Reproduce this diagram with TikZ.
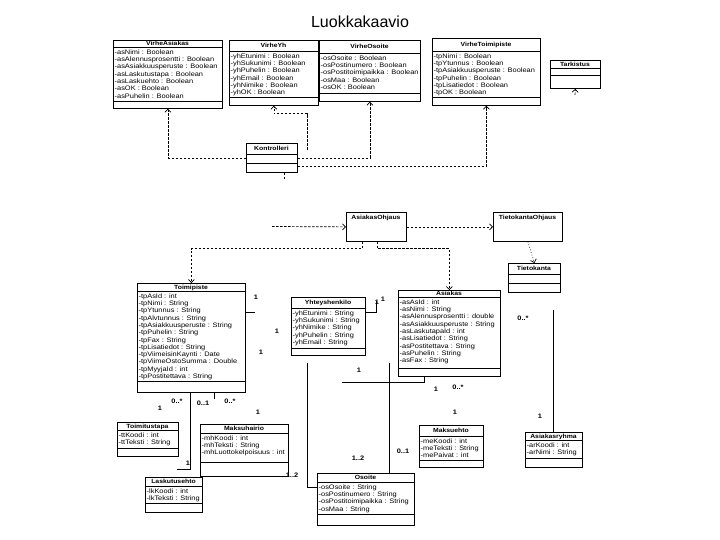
\documentclass[tikz,border=0pt]{standalone}
\usepackage{fontspec}
\setmainfont{Liberation Sans}
\newfontfamily\umlfont[FakeStretch=1.14]{Liberation Sans}
\usetikzlibrary{arrows.meta}
% #1 name, #2 x1, #3 y1, #4 x2, #5 y2, #6 title, #7 title separator y, #8 operations separator y, #9 attributes
\newcommand{\mkclass}[9]{%
  \node[clsbox, minimum width={#4-#2}, minimum height={#5-#3}] (#1) at (#2,#3) {};
  \node[ctitle] (#1-t) at ({(#2+#4)/2},{(#3+#7)/2}) {#6};
  \draw[sepline] (#2,#7) -- (#4,#7);
  \draw[sepline] (#2,#8) -- (#4,#8);
  \node[attrs] (#1-a) at ({#2+1.5},{#7+2.3}) {#9};
}
\begin{document}
\begin{tikzpicture}[x=1pt,y=-1pt,
  clsbox/.style={draw, line width=0.8pt, inner sep=0pt, anchor=north west},
  sepline/.style={line width=0.8pt},
  ctitle/.style={font=\umlfont\bfseries\fontsize{6}{7}\selectfont, inner sep=0pt, text height=4.4pt, text depth=0pt},
  attrs/.style={font=\umlfont\fontsize{6.5}{7.3}\selectfont, inner sep=0pt, anchor=north west, align=left},
  dep/.style={line width=0.7pt, dash pattern=on 2.5pt off 1.5pt, -{Straight Barb[length=3pt,width=6pt]}},
  depline/.style={line width=0.7pt, dash pattern=on 2.5pt off 1.5pt},
  dotdep/.style={line width=0.7pt, dotted, -{Straight Barb[length=3pt,width=6pt]}},
  asc/.style={line width=0.8pt},
  mult/.style={font=\umlfont\bfseries\fontsize{6.5}{7}\selectfont, inner sep=0pt}
]
\fill[white] (0,0) rectangle (720,540);
\useasboundingbox (0,0) rectangle (720,540);

\node[font=\fontsize{16}{19}\selectfont, inner sep=0pt] (title) at (360,22) {Luokkakaavio};

% ---- error classes
\mkclass{va}{113}{40}{222}{108}{VirheAsiakas}{47}{101}{-asNimi : Boolean\\-asAlennusprosentti : Boolean\\-asAsiakkuusperuste : Boolean\\-asLaskutustapa : Boolean\\-asLaskuehto : Boolean\\-asOK : Boolean\\-asPuhelin : Boolean}
\mkclass{vy}{229}{40}{318}{105}{VirheYh}{51}{97}{-yhEtunimi : Boolean\\-yhSukunimi : Boolean\\-yhPuhelin : Boolean\\-yhEmail : Boolean\\-yhNimike : Boolean\\-yhOK : Boolean}
\mkclass{vo}{319}{40}{420}{101}{VirheOsoite}{53}{93}{-osOsoite : Boolean\\-osPostinumero : Boolean\\-osPostitoimipaikka : Boolean\\-osMaa : Boolean\\-osOK : Boolean}
\mkclass{vt}{432}{38}{540}{105}{VirheToimipiste}{51}{97}{-tpNimi : Boolean\\-tpYtunnus : Boolean\\-tpAsiakkuusperuste : Boolean\\-tpPuhelin : Boolean\\-tpLisatiedot : Boolean\\-tpOK : Boolean}
\mkclass{tr}{550}{60}{600}{88}{Tarkistus}{68}{75}{}

% ---- control classes
\mkclass{ko}{246}{143}{297}{172}{Kontrolleri}{154}{163}{}
\node[clsbox, minimum width=60pt, minimum height=29pt] (ao) at (346,212) {};
\node[ctitle] (ao-t) at (376,217) {AsiakasOhjaus};
\node[clsbox, minimum width=69pt, minimum height=29pt] (to) at (493,212) {};
\node[ctitle] (to-t) at (527.5,217) {TietokantaOhjaus};
\mkclass{tk}{508}{263}{560}{292}{Tietokanta}{274}{283}{}

% ---- domain classes
\mkclass{tp}{137}{283}{245}{392}{Toimipiste}{291}{381}{-tpAsId : int\\-tpNimi : String\\-tpYtunnus : String\\-tpAlvtunnus : String\\-tpAsiakkuusperuste : String\\-tpPuhelin : String\\-tpFax : String\\-tpLisatiedot : String\\-tpViimeisinKaynti : Date\\-tpViimeOstoSumma : Double\\-tpMyyjaId : int\\-tpPostitettava : String}
\mkclass{yh}{291}{297}{365}{355}{Yhteyshenkilo}{308}{348}{-yhEtunimi : String\\-yhSukunimi : String\\-yhNimike : String\\-yhPuhelin : String\\-yhEmail : String}
\mkclass{as}{398}{290}{500}{376}{Asiakas}{297}{368}{-asAsId : int\\-asNimi : String\\-asAlennusprosentti : double\\-asAsiakkuusperuste : String\\-asLaskutapaId : int\\-asLisatiedot : String\\-asPostitettava : String\\-asPuhelin : String\\-asFax : String}
\mkclass{tt}{117}{422}{178}{456}{Toimitustapa}{430}{448}{-ttKoodi : int\\-ttTeksti : String}
\mkclass{mh}{200}{424}{288}{476}{Maksuhairio}{433}{462}{-mhKoodi : int\\-mhTeksti : String\\-mhLuottokelpoisuus : int}
\mkclass{me}{419}{425}{483}{467}{Maksuehto}{436}{460}{-meKoodi : int\\-meTeksti : String\\-mePaivat : int}
\mkclass{ar}{525}{432}{582}{467}{Asiakasryhma}{440}{458}{-arKoodi : int\\-arNimi : String}
\mkclass{lk}{145}{477}{202}{512}{Laskutusehto}{486}{503}{-lkKoodi : int\\-lkTeksti : String}
\mkclass{os}{317}{473}{414}{525}{Osoite}{482}{514}{-osOsoite : String\\-osPostinumero : String\\-osPostitoimipaikka : String\\-osMaa : String}

% ---- dependencies
\draw[dep] (ko.west) -| (va.south);
\coordinate (kyh) at (307,150);
\draw[dep] (kyh) |- ([yshift=-8pt]vy.south) -- (vy.south);
\draw[dep] (ko.east) -| (vo.south);
\draw[dep] ([yshift=-8.5pt]ko.east) -| (vt.south);
\coordinate (ktr) at (575,95);
\draw[dep] (ktr) -- (tr.south);
\draw[depline] ([xshift=12.5pt]ko.south) -- ++(0,8);
\coordinate (kao) at (272,226.5);
\draw[dep] (kao) -- (ao.west);
\draw[dep] (ao.east) -- (to.west);
\draw[dotdep] (to.south) -- (tk.north);
\draw[dep] ([xshift=-14pt]ao.south) -- ++(0,7) -| (tp.north);
\draw[dep] ([xshift=1pt]ao.south) -- ++(0,7) -| (as.north);

% ---- associations
\draw[asc] ([yshift=-29pt]tp.north east) -- ++(9,0);
\draw[asc] ([yshift=-15pt]yh.north east) -- ++(11,0) -- ++(0,-11);
\coordinate (yo) at (307,363);
\draw[asc] (yo) |- ([yshift=-14pt]os.north west);
\coordinate (aso) at (389,363);
\draw[asc] (aso) -- (aso |- os.north);
\coordinate (ax) at (342,382);
\draw[asc] ([xshift=-25pt]as.south) |- (ax);
\coordinate (arq) at (553,310);
\draw[asc] (arq) -- (arq |- ar.north);
\draw[asc] ([xshift=-1pt]tp.south) -- ++(0,77) -- ++(-13,0);
\draw[asc] ([xshift=23pt]tp.south) -- ++(0,6);

% ---- multiplicities
\node[mult] (m1) at (256,297) {1};
\node[mult] (m2) at (277,331) {1};
\node[mult] (m3) at (261,352) {1};
\node[mult] (m4) at (377,302) {1};
\node[mult] (m5) at (383,299) {1};
\node[mult] (m6) at (359,370) {1};
\node[mult] (m7) at (436,389) {1};
\node[mult] (m8) at (458,387) {0..*};
\node[mult] (m9) at (455,412) {1};
\node[mult] (m10) at (523,318) {0..*};
\node[mult] (m11) at (540,416) {1};
\node[mult] (m12) at (177,401) {0..*};
\node[mult] (m13) at (203,403) {0..1};
\node[mult] (m14) at (230,401) {0..*};
\node[mult] (m15) at (160,408) {1};
\node[mult] (m16) at (258,412) {1};
\node[mult] (m17) at (188,463) {1};
\node[mult] (m18) at (358,458) {1..2};
\node[mult] (m19) at (292,475) {1..2};
\node[mult] (m20) at (403,451) {0..1};
\end{tikzpicture}
\end{document}
